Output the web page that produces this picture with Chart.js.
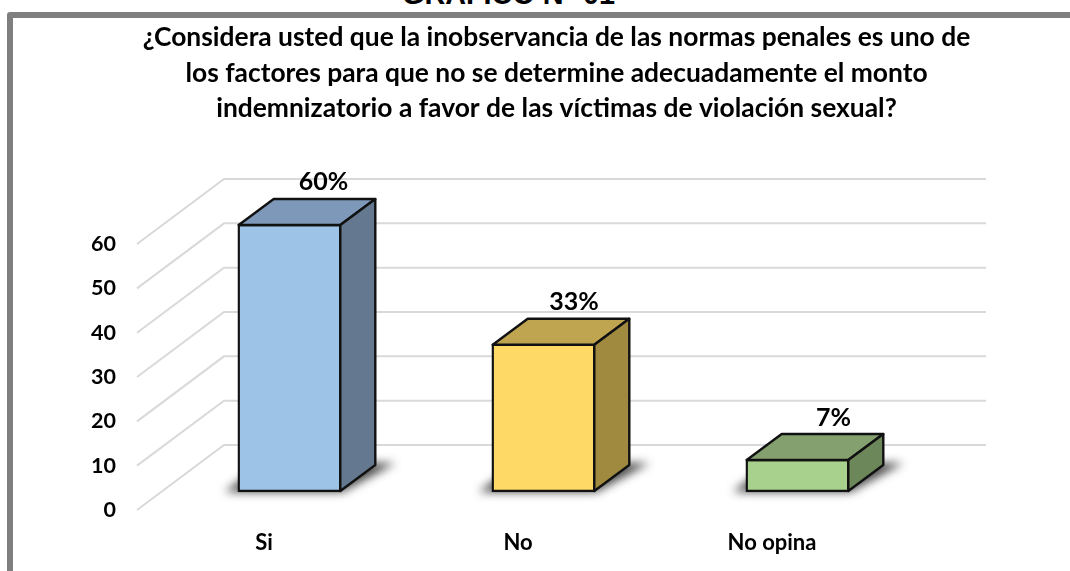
<!DOCTYPE html>
<html lang="es">
<head>
<meta charset="utf-8">
<title>Gráfico</title>
<style>
  html, body { margin: 0; padding: 0; width: 1070px; height: 571px; overflow: hidden; background: #fff; }
  #frame { position: absolute; left: 7px; top: 12px; width: 1200px; height: 700px; border: 6px solid #7f7f7f; border-radius: 3px; }
  #heading { position: absolute; left: 402px; top: -25px; font: bold 28.8px "Liberation Sans", Arial, sans-serif; color: #000; white-space: nowrap; line-height: 38px; }
  canvas { position: absolute; left: 0; top: 0; }
</style>
</head>
<body>
<div id="heading">GRÁFICO N° 01</div>
<div id="frame"></div>
<canvas id="c" width="1070" height="571"></canvas>
<script src="https://cdn.jsdelivr.net/npm/chart.js@4/dist/chart.umd.js"></script>
<script>
const categories = ['Si', 'No', 'No opina'];
const values = [60, 33, 7];
const valueLabels = ['60%', '33%', '7%'];
const yTicks = [0, 10, 20, 30, 40, 50, 60];
const titleLines = [
  '¿Considera usted que la inobservancia de las normas penales es uno de',
  'los factores para que no se determine adecuadamente el monto',
  'indemnizatorio a favor de las víctimas de violación sexual?'
];
const frontColors = ['#9DC3E6', '#FFD966', '#A9D18E'];
const topColors = ['#7D98B8', '#BFA54F', '#84A06F'];
const sideColors = ['#64798F', '#A08A40', '#6C8759'];

const FONT = 'Lato, "Open Sans", sans-serif';
const depth = { x: 87, y: -65, right: 986 };   /* floor depth of the 3D walls */
const barShift = { x: 25.5, y: -19 };          /* bars stand inside the floor */
const barDepth = { x: 35, y: -26 };            /* bar's own depth */
const labelShiftX = [34, 30.5, 36];
const labelShiftY = [-43, -43, -42];

function poly(ctx, pts) {
  ctx.beginPath();
  pts.forEach((p, i) => i ? ctx.lineTo(p[0], p[1]) : ctx.moveTo(p[0], p[1]));
  ctx.closePath();
}

const threeD = {
  id: 'threeD',
  afterLayout(chart) {
    chart.titleBlock.left = 43;
    chart.titleBlock.right = 1070;
  },
  beforeDatasetsDraw(chart) {
    const { ctx, chartArea, scales } = chart;
    // walls / gridlines
    ctx.save();
    ctx.strokeStyle = '#D9D9D9';
    ctx.lineWidth = 2;
    scales.y.ticks.forEach(t => {
      const y = scales.y.getPixelForValue(t.value);
      ctx.beginPath();
      ctx.moveTo(chartArea.left, y);
      ctx.lineTo(chartArea.left + depth.x, y + depth.y);
      ctx.lineTo(depth.right, y + depth.y);
      ctx.stroke();
    });
    ctx.restore();
    // floor shadows
    ctx.save();
    ctx.filter = 'blur(5px)';
    ctx.fillStyle = 'rgba(30,30,30,0.8)';
    chart.getDatasetMeta(0).data.forEach(b => {
      const l = b.x - b.width / 2 + barShift.x, r = b.x + b.width / 2 + barShift.x;
      const base = b.base + barShift.y;
      poly(ctx, [[l - 14, base + 1], [r + 2, base + 1], [r + barDepth.x + 20, base - 28], [l + 25, base - 28]]);
      ctx.fill();
    });
    ctx.restore();
    ctx.save();
    ctx.translate(barShift.x, barShift.y);
  },
  afterDatasetsDraw(chart) {
    const { ctx } = chart;
    const dx = barDepth.x, dy = barDepth.y;
    ctx.lineWidth = 2.4;
    ctx.strokeStyle = '#111';
    ctx.lineJoin = 'round';
    chart.getDatasetMeta(0).data.forEach((b, i) => {
      const l = b.x - b.width / 2, r = b.x + b.width / 2, top = b.y, base = b.base;
      poly(ctx, [[l, top], [r, top], [r + dx, top + dy], [l + dx, top + dy]]);
      ctx.fillStyle = topColors[i]; ctx.fill(); ctx.stroke();
      poly(ctx, [[r, top], [r + dx, top + dy], [r + dx, base + dy], [r, base]]);
      ctx.fillStyle = sideColors[i]; ctx.fill(); ctx.stroke();
    });
    ctx.restore();
    // value labels
    ctx.save();
    ctx.fillStyle = '#000';
    ctx.font = 'bold 25px ' + FONT;
    ctx.textAlign = 'center';
    ctx.textBaseline = 'middle';
    chart.getDatasetMeta(0).data.forEach((b, i) => {
      ctx.fillText(valueLabels[i], b.x + barShift.x + labelShiftX[i], b.y + barShift.y + labelShiftY[i]);
    });
    ctx.restore();
  }
};

new Chart(document.getElementById('c'), {
  type: 'bar',
  data: {
    labels: categories,
    datasets: [{
      data: values,
      backgroundColor: frontColors,
      borderColor: '#111',
      borderWidth: 2.4,
      borderSkipped: false,
      inflateAmount: 1.2,
      categoryPercentage: 1,
      barPercentage: 0.4,
      clip: false
    }]
  },
  options: {
    responsive: false,
    animation: false,
    layout: { padding: { left: 0, right: 171, top: 0, bottom: 0 } },
    plugins: {
      legend: { display: false },
      tooltip: { enabled: false },
      title: {
        display: true,
        text: titleLines,
        color: '#000',
        font: { family: FONT, size: 26.4, weight: 'bold', lineHeight: 1.345 },
        padding: { top: 20, bottom: 117.5 }
      }
    },
    scales: {
      x: {
        grid: { display: false, drawTicks: false },
        border: { display: false },
        ticks: { color: '#000', padding: 20, font: { family: FONT, size: 22, weight: 'bold' } },
        afterFit(s) { s.height = 61; }
      },
      y: {
        min: 0, max: 60,
        grid: { display: false, drawTicks: false },
        border: { display: false },
        afterBuildTicks(s) { s.ticks = yTicks.map(v => ({ value: v })); },
        ticks: { color: '#000', padding: 21, font: { family: FONT, size: 21.5, weight: 'bold' } },
        afterFit(s) { s.width = 137; }
      }
    }
  },
  plugins: [threeD]
});
</script>
</body>
</html>
